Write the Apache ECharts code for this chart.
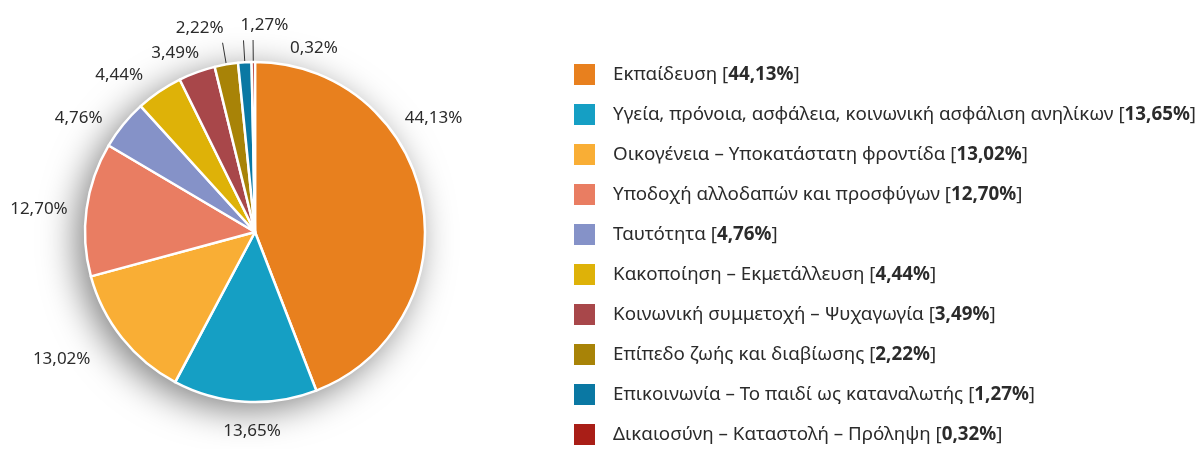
<!DOCTYPE html>
<html>
<head>
<meta charset="utf-8">
<script src="https://cdn.jsdelivr.net/npm/echarts@6/dist/echarts.min.js"></script>
<style>
    html, body { margin: 0; padding: 0; background: #ffffff; }
    #chart { width: 1202px; height: 449px; }
</style>
</head>
<body>
<div id="chart"></div>
<script>
var categories = [
    'Εκπαίδευση',
    'Υγεία, πρόνοια, ασφάλεια, κοινωνική ασφάλιση ανηλίκων',
    'Οικογένεια – Υποκατάστατη φροντίδα',
    'Υποδοχή αλλοδαπών και προσφύγων',
    'Ταυτότητα',
    'Κακοποίηση – Εκμετάλλευση',
    'Κοινωνική συμμετοχή – Ψυχαγωγία',
    'Επίπεδο ζωής και διαβίωσης',
    'Επικοινωνία – Το παιδί ως καταναλωτής',
    'Δικαιοσύνη – Καταστολή – Πρόληψη'
]
var shares = [44.13, 13.65, 13.02, 12.70, 4.76, 4.44, 3.49, 2.22, 1.27, 0.32]
var colors = ['#e8801e', '#159fc4', '#f9ae35', '#e97d62', '#8592c8', '#deb208', '#a8474a', '#a88307', '#0a78a3', '#a91e17']

var fontName = 'Noto Sans'
var textColor = '#2b2b2b'

function fmt( v ) {
    return v.toFixed( 2 ).replace( '.', ',' ) + '%'
}

// label nudges, by slice index (the source places a few labels by hand)
var labelNudge = {
    0: { dx: -42, dy: -79 },
    1: { dx: 14, dy: 0, align: 'center' },
    3: { dx: 6, dy: 3 },
    4: { dx: 0, dy: 6 },
    6: { dx: 14, dy: 0 },
    7: { dx: 6, dy: -15 },
    8: { dx: 2, dy: -15, align: 'left' },
    9: { dx: 42, dy: 8, align: 'left' }
}

var pieData = []
for ( var i = 0; i < categories.length; i++ ) {
    var item = {
        name: categories[i],
        value: shares[i],
        itemStyle: { color: colors[i] }
    }
    // only the thin slices get a leader line
    if ( shares[i] < 3 ) {
        item.labelLine = { show: true, length: 22, length2: 0 }
    }
    if ( i == 1 ) item.labelLine = { length: 30 }
    if ( i == 2 ) item.labelLine = { length: 34 }
    pieData.push( item )
}

var chart = echarts.init( document.getElementById( 'chart' ) )
chart.setOption( {
    animation: false,
    legend: {
        orient: 'vertical',
        // text padding pushes the whole item right, so start a bit further left
        left: 558,
        top: 62,
        padding: 0,
        itemWidth: 23,
        itemHeight: 23,
        itemGap: 15,
        icon: 'rect',
        selectedMode: false,
        formatter: function ( name ) {
            var idx = categories.indexOf( name )
            return name + ' [{b|' + fmt( shares[idx] ) + '}]'
        },
        textStyle: {
            color: textColor,
            fontFamily: fontName,
            fontSize: 18.8,
            lineHeight: 23,
            padding: [0, 0, 0, 12],
            rich: {
                b: {
                    color: textColor,
                    fontFamily: fontName,
                    fontSize: 18.8,
                    lineHeight: 23,
                    fontWeight: 'bold'
                }
            }
        }
    },
    series: [{
        // white disc underneath, only carries the drop shadow
        name: 'shadow',
        type: 'pie',
        silent: true,
        z: 1,
        center: [255, 232],
        radius: [0, 170],
        label: { show: false },
        labelLine: { show: false },
        itemStyle: {
            color: '#ffffff',
            shadowBlur: 36,
            shadowColor: 'rgba(0,0,0,0.5)',
            shadowOffsetX: -8,
            shadowOffsetY: 8
        },
        data: [{ value: 1, name: '' }]
    }, {
        name: 'share',
        type: 'pie',
        z: 2,
        center: [255, 232],
        radius: [0, 170],
        startAngle: 90,
        clockwise: true,
        avoidLabelOverlap: false,
        itemStyle: {
            borderColor: '#ffffff',
            borderWidth: 2.5
        },
        label: {
            show: true,
            position: 'outside',
            color: textColor,
            fontFamily: fontName,
            fontSize: 17,
            formatter: function ( p ) {
                return fmt( p.value )
            }
        },
        labelLine: {
            show: false,
            length: 20,
            length2: 0,
            lineStyle: { color: '#333333', width: 1 }
        },
        labelLayout: function ( p ) {
            return labelNudge[p.dataIndex] || {}
        },
        data: pieData
    }]
} )
</script>
</body>
</html>
